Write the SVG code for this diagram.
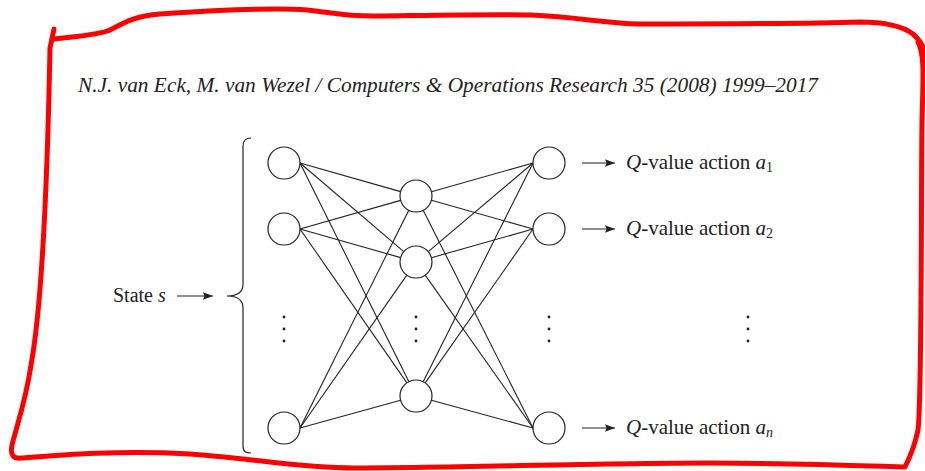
<svg xmlns="http://www.w3.org/2000/svg" width="925" height="471" viewBox="0 0 925 471">
<style>
.node{fill:#fff;stroke:#222;stroke-width:1.2}
.edge{stroke:#222;stroke-width:1.1;fill:none}
.lbl{font-family:"Liberation Serif",serif;font-size:20px;fill:#222}
.ql{font-size:21px}
.it{font-style:italic}
.dot{fill:#222}
.arr{stroke:#222;stroke-width:1.1;fill:none}
.head{fill:#222}
</style>
<defs>
<marker id="ah" viewBox="0 0 10 8" refX="10" refY="4" markerWidth="10" markerHeight="8" markerUnits="userSpaceOnUse" orient="auto">
<path d="M0,0.3 L10,4 L0,7.7 L1.5,4 Z" class="head"/>
</marker>
</defs>
<rect width="925" height="471" fill="#fff"/>
<g id="frame" fill="none" stroke="#f00" stroke-width="5" stroke-linecap="round" stroke-linejoin="round">
<path d="M54,29 L50,48 C48,150 43,300 31,365 C26,400 17,425 12,445 C10,455 13,459 22,458 C60,455 120,450 190,454 C250,458 300,468 354,468 C450,468 600,463 708,463 C800,463 870,466 905,467 C911,455 916,440 918,430 C922,400 921,200 922,120 C923,80 925,55 918,42"/>
<path d="M55,39 C80,36 98,35 110,30 C125,22 135,16 160,14 C220,10 280,8 307,10 C330,12 345,17 380,16 C450,15 500,14 531,15 C580,17 600,23 640,24 C720,24 800,24 860,22 C890,22 905,28 913,34 C921,41 925,50 926,58"/>
</g>
<text x="78" y="92" class="lbl it" font-size="19" textLength="740" lengthAdjust="spacingAndGlyphs">N.J. van Eck, M. van Wezel / Computers &amp; Operations Research 35 (2008) 1999–2017</text>
<g id="connectors">
<line class="edge" x1="300" y1="163" x2="400.6" y2="191.6"/>
<line class="edge" x1="300" y1="229" x2="400.6" y2="200.4"/>
<line class="edge" x1="300" y1="428" x2="408.8" y2="210.3"/>
<line class="edge" x1="300" y1="163" x2="403.8" y2="251.6"/>
<line class="edge" x1="300" y1="229" x2="400.6" y2="257.6"/>
<line class="edge" x1="300" y1="428" x2="406.8" y2="275.1"/>
<line class="edge" x1="300" y1="163" x2="408.9" y2="381.7"/>
<line class="edge" x1="300" y1="229" x2="406.9" y2="382.9"/>
<line class="edge" x1="300" y1="428" x2="400.6" y2="400.3"/>
<line class="edge" x1="431.4" y1="191.7" x2="533" y2="163"/>
<line class="edge" x1="431.4" y1="200.3" x2="533" y2="229"/>
<line class="edge" x1="423.2" y1="210.3" x2="533" y2="428"/>
<line class="edge" x1="428.2" y1="251.7" x2="533" y2="163"/>
<line class="edge" x1="431.4" y1="257.7" x2="533" y2="229"/>
<line class="edge" x1="425.2" y1="275.1" x2="533" y2="428"/>
<line class="edge" x1="423.2" y1="381.7" x2="533" y2="163"/>
<line class="edge" x1="425.2" y1="382.9" x2="533" y2="229"/>
<line class="edge" x1="431.4" y1="400.2" x2="533" y2="428"/>
<line class="arr" x1="177" y1="296" x2="213" y2="296" marker-end="url(#ah)"/>
<line class="arr" x1="582" y1="163" x2="615" y2="163" marker-end="url(#ah)"/>
<line class="arr" x1="582" y1="229" x2="615" y2="229" marker-end="url(#ah)"/>
<line class="arr" x1="582" y1="428" x2="615" y2="428" marker-end="url(#ah)"/>
</g>
<g id="brace">
<path d="M251,138 C246,138 243,140 243,146 L243,284 C243,292 238,296 227,296 C238,296 243,300 243,308 L243,446 C243,452 246,453 251,453" fill="none" stroke="#222" stroke-width="1.2"/>
</g>
<g id="input1"><circle class="node" cx="284" cy="163" r="16"/></g>
<g id="input2"><circle class="node" cx="284" cy="229" r="16"/></g>
<g id="input3"><circle class="node" cx="284" cy="428" r="16"/></g>
<g id="hidden1"><circle class="node" cx="416" cy="196" r="16"/></g>
<g id="hidden2"><circle class="node" cx="416" cy="262" r="16"/></g>
<g id="hidden3"><circle class="node" cx="416" cy="396" r="16"/></g>
<g id="output1"><circle class="node" cx="549" cy="163" r="16"/></g>
<g id="output2"><circle class="node" cx="549" cy="229" r="16"/></g>
<g id="output3"><circle class="node" cx="549" cy="428" r="16"/></g>
<g id="dots">
<circle class="dot" cx="284" cy="317" r="1.4"/><circle class="dot" cx="284" cy="329" r="1.4"/><circle class="dot" cx="284" cy="341" r="1.4"/>
<circle class="dot" cx="416" cy="317" r="1.4"/><circle class="dot" cx="416" cy="329" r="1.4"/><circle class="dot" cx="416" cy="341" r="1.4"/>
<circle class="dot" cx="549" cy="317" r="1.4"/><circle class="dot" cx="549" cy="329" r="1.4"/><circle class="dot" cx="549" cy="341" r="1.4"/>
<circle class="dot" cx="748" cy="317" r="1.4"/><circle class="dot" cx="748" cy="329" r="1.4"/><circle class="dot" cx="748" cy="341" r="1.4"/>
</g>
<g id="state-label">
<text x="113" y="302" class="lbl">State <tspan class="it">s</tspan></text>
</g>
<g id="q-labels">
<text x="626" y="168.5" class="lbl ql"><tspan class="it">Q</tspan>-value action <tspan class="it">a</tspan><tspan font-size="14" dy="3">1</tspan></text>
<text x="626" y="234.5" class="lbl ql"><tspan class="it">Q</tspan>-value action <tspan class="it">a</tspan><tspan font-size="14" dy="3">2</tspan></text>
<text x="626" y="433.5" class="lbl ql"><tspan class="it">Q</tspan>-value action <tspan class="it">a</tspan><tspan font-size="14" class="it" dy="3">n</tspan></text>
</g>
</svg>
